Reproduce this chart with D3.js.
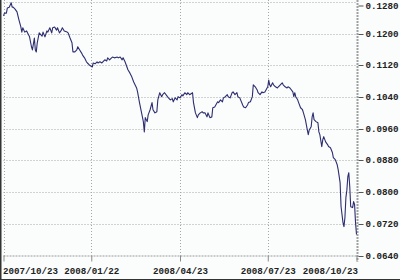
<!DOCTYPE html>
<html><head><meta charset="utf-8">
<script src="https://cdn.jsdelivr.net/npm/d3@7"></script>
<style>html,body{margin:0;padding:0;background:#fbfdfd;}svg{display:block;}</style>
</head><body>
<svg id="chart" width="400" height="280"></svg>
<script>
// Data
const startDate = "2007-10-23";
const dayOffsets = [0,1,3,4,6,8,9,10,12,14,16,18,19,20,22,24,25,27,29,30,32,33,34,35,37,40,41,43,45,46,48,50,51,53,55,56,58,60,61,63,66,67,69,71,72,74,76,77,79,81,82,84,86,87,89,92,93,95,97,98,100,102,103,105,107,108,110,112,113,115,118,119,121,123,124,126,128,129,131,133,
135,138,139,141,144,145,146,147,149,150,152,154,155,157,159,160,162,164,165,167,170,171,173,175,176,178,180,181,183,185,186,188,190,191,193,196,197,199,201,202,204,206,207,209,211,212,214,216,217,219,222,223,225,227,228,230,232,233,235,237,238,240,242,243,245,248,249,251,253,254,256,258,259,261,263,264,266,268,269,271,274,275,276,277,279,280,282,284,285,
287,289,290,292,294,295,297,300,301,302,303,305,306,308,310,311,313,315,316,317,319,320,321,322,324,326,327,328,330,331,332,334,336,337,339,341,342,344,346,347,349,350,352,353,354,355,356,357,358,359,360,362,363,364,365,366];
const rates = [0.1245,0.1252,0.1252,0.1265,0.1267,0.1278,0.1267,0.1267,0.1262,0.1255,0.1235,0.1217,0.1204,0.1215,0.1204,0.1207,0.1202,0.1192,0.1167,0.1159,0.1189,0.1159,0.1154,0.1177,0.1202,0.1194,0.1204,0.1192,0.1207,0.1204,0.1215,0.1202,0.1215,0.1217,0.1209,0.1215,0.1202,0.1209,0.1215,0.1207,0.1204,0.1202,0.1189,0.1177,0.1154,0.1154,0.1159,0.1167,0.1159,0.1151,0.1146,0.1139,0.1129,0.1126,0.1121,0.1116,0.1126,0.1124,0.1129,0.1126,0.1129,0.1126,0.1129,0.1134,0.1131,0.1139,0.1134,0.1139,0.1141,0.1139,0.1141,0.1139,0.1141,0.1134,0.1139,0.1129,0.1116,0.1109,0.1101,0.1091,
0.1078,0.1063,0.1053,0.1026,0.0990,0.0978,0.0952,0.0988,0.0978,0.0995,0.1008,0.1026,0.1008,0.1000,0.1003,0.1033,0.1051,0.1041,0.1046,0.1051,0.1041,0.1038,0.1033,0.1036,0.1028,0.1038,0.1033,0.1041,0.1038,0.1046,0.1043,0.1051,0.1046,0.1051,0.1046,0.1051,0.1026,0.1000,0.0988,0.0995,0.1000,0.1003,0.1000,0.1000,0.0990,0.1000,0.0988,0.0990,0.1013,0.1015,0.1028,0.1026,0.1033,0.1028,0.1038,0.1041,0.1046,0.1041,0.1038,0.1051,0.1053,0.1046,0.1051,0.1041,0.1038,0.1020,0.1015,0.1013,0.1020,0.1026,0.1028,0.1041,0.1071,0.1066,0.1058,0.1051,0.1046,0.1053,0.1051,0.1053,0.1066,0.1083,0.1071,0.1066,0.1076,0.1071,0.1066,0.1063,0.1066,
0.1071,0.1076,0.1071,0.1066,0.1063,0.1066,0.1063,0.1053,0.1041,0.1051,0.1041,0.1033,0.1026,0.1013,0.1008,0.1000,0.0983,0.0957,0.0945,0.0957,0.0965,0.0990,0.1000,0.0983,0.0978,0.0975,0.0952,0.0945,0.0915,0.0932,0.0940,0.0927,0.0920,0.0915,0.0912,0.0900,0.0887,0.0882,0.0869,0.0857,0.0824,0.0763,0.0723,0.0713,0.0736,0.0786,0.0805,0.0839,0.0849,0.0814,0.0763,0.0761,0.0776,0.0769,0.0723,0.0693];
const xTickLabels = ["2007/10/23","2008/01/22","2008/04/23","2008/07/23","2008/10/23"];
const yTickValues = [0.0640,0.0720,0.0800,0.0880,0.0960,0.1040,0.1120,0.1200,0.1280];

const parse = d3.timeParse("%Y/%m/%d");
const start = d3.timeParse("%Y-%m-%d")(startDate);
const data = dayOffsets.map((d,i)=>({date:d3.timeDay.offset(start,d), v:rates[i]}));
const xTicks = xTickLabels.map(parse);

const svg = d3.select("#chart");
const L=3.5, R=356.5, T=2, B=255.5;
const x = d3.scaleTime().domain([xTicks[0], xTicks[xTicks.length-1]]).range([L,R]);
const y = d3.scaleLinear().domain([0.064,0.128]).range([B,T]);

svg.append("rect").attr("width",400).attr("height",280).attr("fill","#fbfdfd");

// grid
const g = svg.append("g");
g.selectAll(".hg").data(yTickValues.slice(1)).join("line")
  .attr("x1",L).attr("x2",R).attr("y1",d=>Math.round(y(d))+0.5).attr("y2",d=>Math.round(y(d))+0.5)
  .attr("stroke","#a6a6a6").attr("stroke-dasharray","1,2");
g.selectAll(".vg").data(xTicks).join("line")
  .attr("x1",d=>Math.round(x(d))+0.5).attr("x2",d=>Math.round(x(d))+0.5).attr("y1",T-2).attr("y2",B)
  .attr("stroke","#a6a6a6").attr("stroke-dasharray","1,2");
// axes lines
svg.append("line").attr("x1",L).attr("x2",R+1).attr("y1",B+0.5).attr("y2",B+0.5)
  .attr("stroke","#9a9a9a").attr("stroke-dasharray","2,1");
svg.append("line").attr("x1",R+1).attr("x2",R+1).attr("y1",0).attr("y2",B+6)
  .attr("stroke","#a0a0a0").attr("stroke-width",2).attr("stroke-dasharray","2,1");

// bottom axis
const xAxis = d3.axisBottom(x).tickValues(xTicks).tickSize(6).tickFormat((d,i)=>xTickLabels[i]);
const gx = svg.append("g").attr("transform",`translate(0,${B})`).call(xAxis);
gx.select(".domain").remove();
gx.selectAll(".tick line").attr("stroke","#8a8a8a");
gx.selectAll(".tick text").attr("y",12).attr("dy","0.71em")
  .attr("font-family","'Liberation Mono', monospace").attr("font-weight","bold").attr("font-size","9.2px").attr("fill","#222")
  .attr("text-anchor",(d,i)=> i===0?"start":(i===xTicks.length-1?"end":"middle"))
  .attr("dx",(d,i)=> i===0?-1:(i===xTicks.length-1?1:0));

// right axis
const yAxis = d3.axisRight(y).tickValues(yTickValues).tickSize(5).tickFormat(d3.format(".4f"));
const gy = svg.append("g").attr("transform",`translate(${R+2},0)`).call(yAxis);
gy.select(".domain").remove();
gy.selectAll(".tick line").attr("stroke","#555");
gy.selectAll(".tick").attr("transform",d=>`translate(0,${Math.max(Math.round(y(d))+0.5,6)})`);
gy.selectAll(".tick text").attr("x",7)
  .attr("font-family","'Liberation Mono', monospace").attr("font-weight","bold").attr("font-size","9.2px").attr("fill","#222");

// line
const line = d3.line().x(d=>x(d.date)).y(d=>y(d.v));
svg.append("path").datum(data).attr("d",line).attr("fill","none")
  .attr("stroke","#2d2d70").attr("stroke-width",1.1).attr("stroke-linejoin","round");

// frame
svg.append("line").attr("x1",0.75).attr("x2",0.75).attr("y1",0).attr("y2",280).attr("stroke","#333").attr("stroke-width",1.5);
svg.append("line").attr("x1",0).attr("x2",400).attr("y1",279.5).attr("y2",279.5).attr("stroke","#333");
</script>
</body></html>
